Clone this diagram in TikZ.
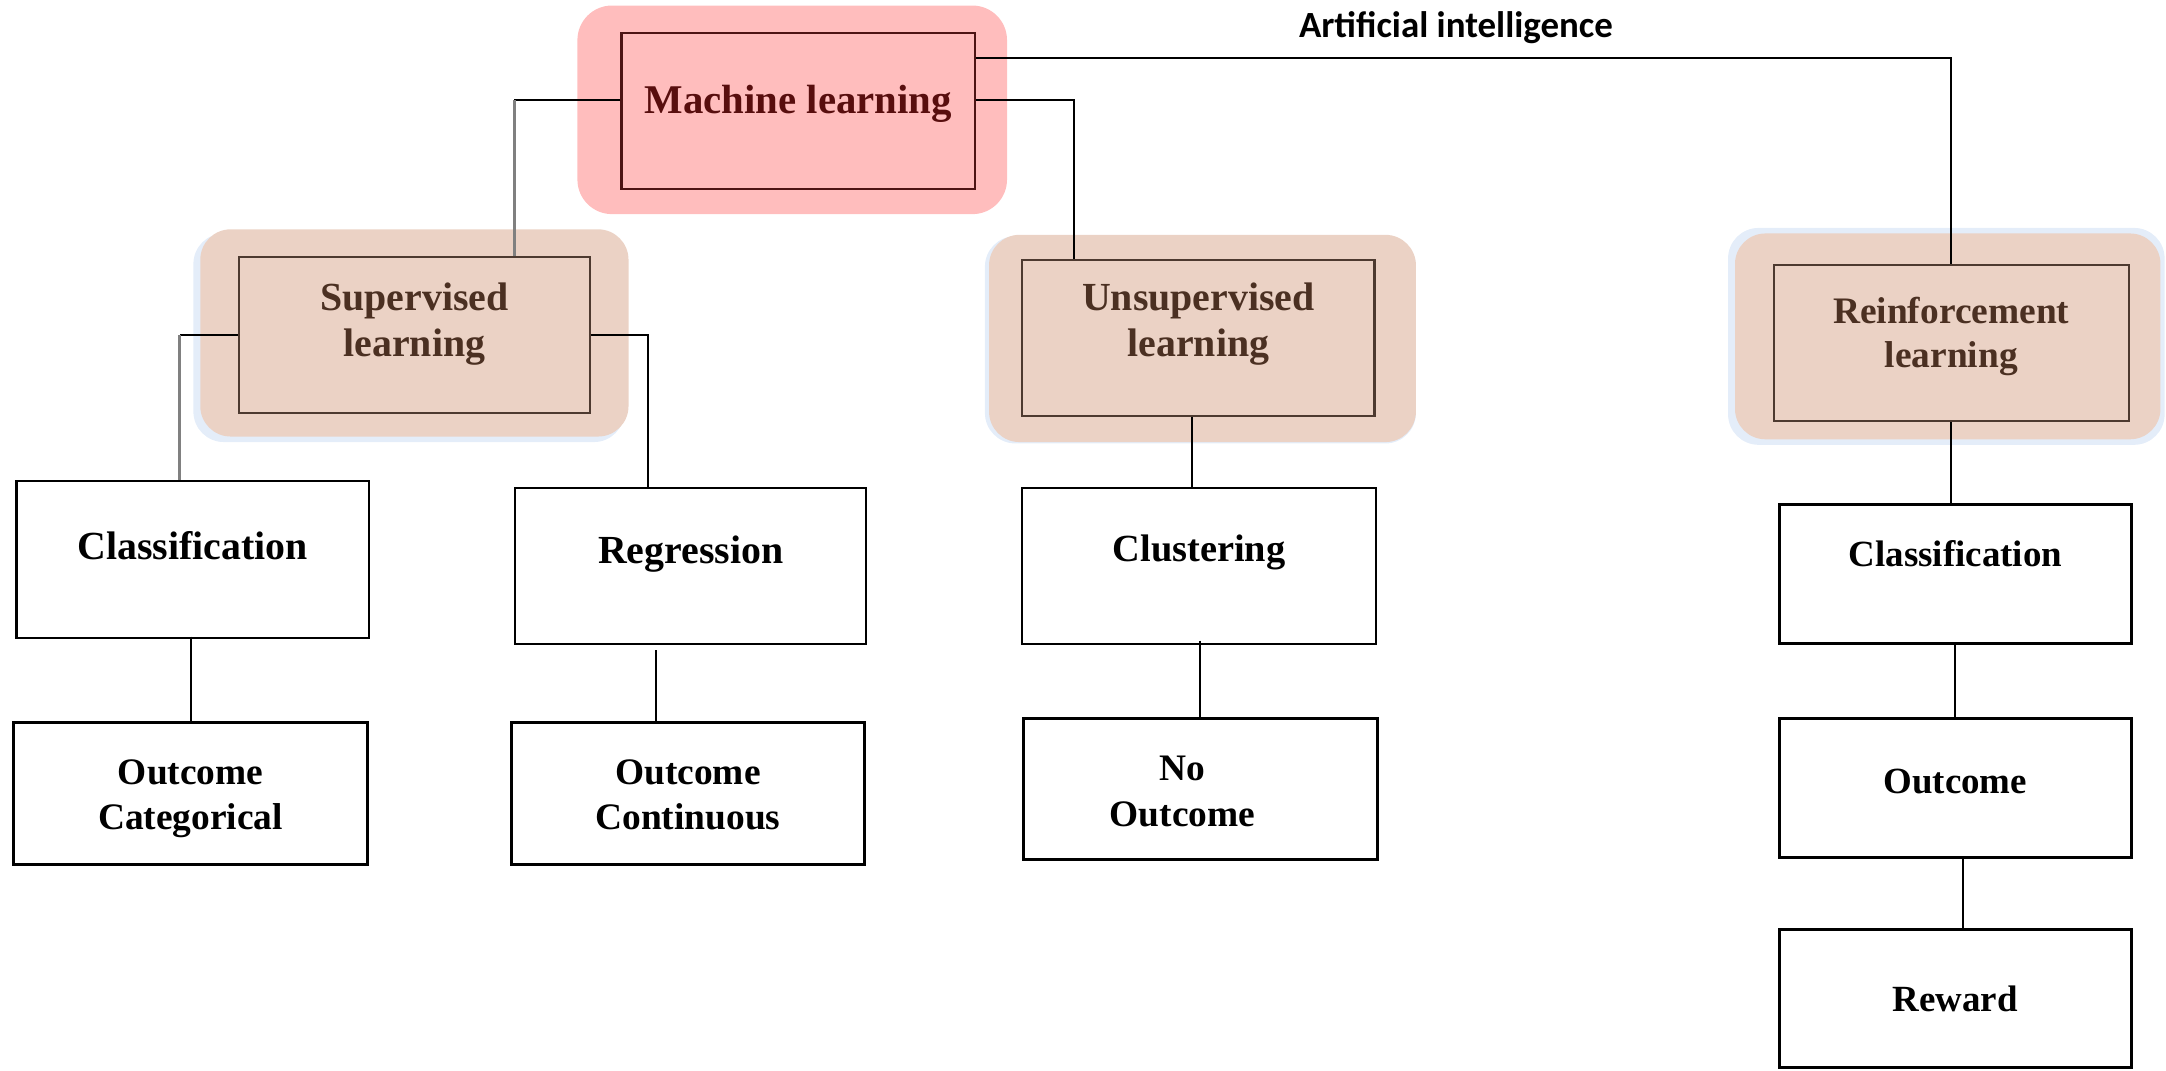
\documentclass[tikz,border=0pt]{standalone}
\usepackage{fontspec}
\setmainfont{Liberation Serif}
\newfontfamily\aifont{Carlito}
\usetikzlibrary{fit,calc}
\definecolor{mlpink}{RGB}{255,189,189}
\definecolor{mltext}{RGB}{88,14,14}
\definecolor{mlborder}{RGB}{77,20,20}
\definecolor{hlbrown}{RGB}{235,210,197}
\definecolor{hlblue}{RGB}{228,237,249}
\definecolor{brtext}{RGB}{75,48,34}
\definecolor{brborder}{RGB}{77,58,48}
\definecolor{gline}{RGB}{128,128,128}
\begin{document}
\begin{tikzpicture}[x=0.01cm,y=-0.01cm,
  box/.style={draw=black, line width=0.45pt, inner sep=0pt, fill=white},
  thickbox/.style={box, line width=0.6pt},
  hl/.style={fill=hlbrown, draw=none, rounded corners=0.22cm, inner sep=0pt},
  hledge/.style={fill=hlblue, draw=none, rounded corners=0.22cm, inner sep=0pt},
  mlhl/.style={fill=mlpink, draw=none, rounded corners=0.25cm, inner sep=0pt},
  brbox/.style={draw=brborder, line width=0.45pt, inner sep=0pt},
  lbl/.style={font=\bfseries\fontsize{8.2}{9.4}\selectfont, align=center, text=black, inner sep=0pt},
  rlbl/.style={font=\bfseries\fontsize{7.6}{9}\selectfont, align=center, text=black, inner sep=0pt},
  brlbl/.style={font=\bfseries\fontsize{8.2}{9.6}\selectfont, align=center, text=brtext, inner sep=0pt},
  conn/.style={draw=black, line width=0.4pt},
  gconn/.style={draw=gline, line width=0.55pt}]
\useasboundingbox (0,0) rectangle (1568,775);

% highlights
\node[mlhl, fit={(418,4)(729,155)}] (mlh) {};
\node[hledge, fit={(140,169)(452,320)}] (suph2) {};
\node[hl, fit={(145,166)(455,316)}] (suph) {};
\node[hledge, fit={(713,171)(1025,321)}] (unsh2) {};
\node[hl, fit={(716,170)(1025,320)}] (unsh) {};
\node[hledge, fit={(1251,165)(1567,322)}] (rlh2) {};
\node[hl, fit={(1256,169)(1564,318)}] (rlh) {};

% main boxes
\node[draw=mlborder, line width=0.5pt, inner sep=0pt, fit={(450,24)(706,137)},
  label={[name=mlt, font=\bfseries\fontsize{8.4}{10}\selectfont, text=mltext, yshift=0.055cm]center:Machine learning}] (ml) {};
\node[brbox, fit={(173,186)(427,299)},
  label={[name=supt, brlbl, yshift=0.08cm]center:{Supervised\\learning}}] (sup) {};
\node[brbox, fit={(740,188)(995,301)},
  label={[name=unst, brlbl, yshift=0.1cm]center:{Unsupervised\\learning}}] (uns) {};
\node[brbox, fit={(1284,192)(1541,305)},
  label={[name=rlt, brlbl, font=\bfseries\fontsize{7.7}{9}\selectfont, yshift=0.05cm]center:{Reinforcement\\learning}}] (rl) {};

% leaf boxes
\node[box, fit={(12,348)(267,462)},
  label={[name=cls1t, lbl, yshift=0.1cm]center:Classification}] (cls1) {};
\node[box, fit={(373,353)(627,466)},
  label={[name=regt, lbl, yshift=0.085cm]center:Regression}] (reg) {};
\node[thickbox, fit={(10,523)(266,626)},
  label={[name=oc1t, rlbl, font=\bfseries\fontsize{7.7}{9.3}\selectfont, yshift=-0.035cm]center:{Outcome\\Categorical}}] (oc1) {};
\node[thickbox, fit={(370,523)(626,626)},
  label={[name=oc2t, rlbl, font=\bfseries\fontsize{7.7}{9.3}\selectfont, yshift=-0.01cm]center:{Outcome\\Continuous}}] (oc2) {};
\node[box, fit={(740,353)(996,466)},
  label={[name=clut, rlbl, font=\bfseries\fontsize{7.9}{9}\selectfont, yshift=0.095cm]center:Clustering}] (clu) {};
\node[thickbox, fit={(741,520)(997,622)},
  label={[name=not, rlbl, font=\bfseries\fontsize{7.7}{9.3}\selectfont, xshift=-0.13cm, yshift=-0.02cm]center:{No\\Outcome}}] (no) {};
\node[thickbox, fit={(1288,365)(1543,466)},
  label={[name=cls2t, rlbl, yshift=0.145cm]center:Classification}] (cls2) {};
\node[thickbox, fit={(1288,520)(1543,621)},
  label={[name=outt, rlbl, yshift=0.045cm]center:Outcome}] (out) {};
\node[thickbox, fit={(1288,673)(1543,773)},
  label={[name=rewt, rlbl]center:Reward}] (rew) {};

% title
\node[font=\aifont\bfseries\fontsize{7.6}{9}\selectfont, inner sep=0pt] (ai) at (1054,20) {Artificial intelligence};

% connectors from Machine learning
\coordinate (mlA) at ($(ml.north east)+(0,19)$);
\draw[conn] (mlA) -| (rl.north);
\coordinate (mlL) at ($(ml.west)+(0,-8)$);
\coordinate (supK) at ($(sup.north west)!0.783!(sup.north east)$);
\draw[conn] (mlL) -- (mlL -| supK);
\draw[gconn] (mlL -| supK) -- (supK);
\coordinate (mlR) at ($(ml.east)+(0,-8)$);
\coordinate (unsK) at ($(uns.north west)!0.149!(uns.north east)$);
\draw[conn] (mlR) -| (unsK);

% supervised branches
\coordinate (clsK) at ($(cls1.north west)!0.463!(cls1.north east)$);
\draw[conn] (sup.west) -- (sup.west -| clsK);
\draw[gconn] (sup.west -| clsK) -- (clsK);
\coordinate (regK) at ($(reg.north west)!0.378!(reg.north east)$);
\draw[conn] (sup.east) -| (regK);

% lower connectors
\draw[conn] ($(oc1.north |- cls1.south)+(0,-2)$) -- (oc1.north);
\coordinate (regB) at ($(reg.south)+(-25,4)$);
\draw[conn] (regB) -- (regB |- oc2.north);
\coordinate (unsB) at ($(uns.south)+(-4.5,0)$);
\draw[conn] (unsB) -- (unsB |- clu.north);
\coordinate (cluB) at ($(clu.south)+(1,-3)$);
\draw[conn] (cluB) -- (cluB |- no.north);
\draw[conn] (rl.south) -- (rl.south |- cls2.north);
\draw[conn] (cls2.south) -- (cls2.south |- out.north);
\coordinate (outB) at ($(out.south)+(5.5,0)$);
\draw[conn] (outB) -- (outB |- rew.north);
\end{tikzpicture}
\end{document}
